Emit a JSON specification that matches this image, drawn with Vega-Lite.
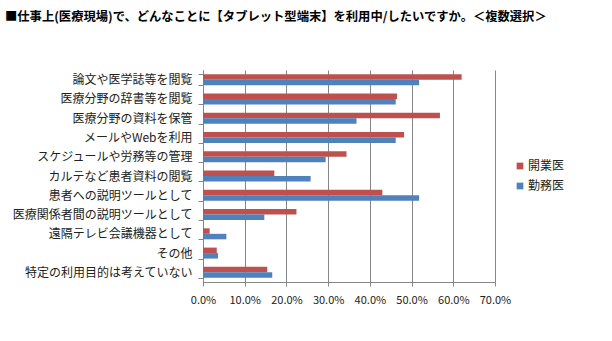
{
  "$schema": "https://vega.github.io/schema/vega-lite/v6.json",
  "width": 292,
  "height": 212,
  "autosize": {"type": "none"},
  "padding": {"left": 203, "top": 70, "right": 117, "bottom": 59},
  "background": "white",
  "title": {
    "text": "■仕事上(医療現場)で、どんなことに【タブレット型端末】を利用中/したいですか。＜複数選択＞",
    "anchor": "start",
    "frame": "group",
    "orient": "top",
    "offset": 41,
    "dx": -198,
    "font": "Noto Sans CJK JP",
    "fontSize": 12.3,
    "fontWeight": "bold",
    "color": "#000000"
  },
  "data": {
    "values": [
      {"item": "論文や医学誌等を閲覧", "group": "開業医", "value": 0.620},
      {"item": "論文や医学誌等を閲覧", "group": "勤務医", "value": 0.518},
      {"item": "医療分野の辞書等を閲覧", "group": "開業医", "value": 0.465},
      {"item": "医療分野の辞書等を閲覧", "group": "勤務医", "value": 0.462},
      {"item": "医療分野の資料を保管", "group": "開業医", "value": 0.568},
      {"item": "医療分野の資料を保管", "group": "勤務医", "value": 0.368},
      {"item": "メールやWebを利用", "group": "開業医", "value": 0.482},
      {"item": "メールやWebを利用", "group": "勤務医", "value": 0.462},
      {"item": "スケジュールや労務等の管理", "group": "開業医", "value": 0.344},
      {"item": "スケジュールや労務等の管理", "group": "勤務医", "value": 0.294},
      {"item": "カルテなど患者資料の閲覧", "group": "開業医", "value": 0.171},
      {"item": "カルテなど患者資料の閲覧", "group": "勤務医", "value": 0.258},
      {"item": "患者への説明ツールとして", "group": "開業医", "value": 0.430},
      {"item": "患者への説明ツールとして", "group": "勤務医", "value": 0.518},
      {"item": "医療関係者間の説明ツールとして", "group": "開業医", "value": 0.224},
      {"item": "医療関係者間の説明ツールとして", "group": "勤務医", "value": 0.147},
      {"item": "遠隔テレビ会議機器として", "group": "開業医", "value": 0.016},
      {"item": "遠隔テレビ会議機器として", "group": "勤務医", "value": 0.056},
      {"item": "その他", "group": "開業医", "value": 0.033},
      {"item": "その他", "group": "勤務医", "value": 0.036},
      {"item": "特定の利用目的は考えていない", "group": "開業医", "value": 0.154},
      {"item": "特定の利用目的は考えていない", "group": "勤務医", "value": 0.166}
    ]
  },
  "mark": {"type": "bar"},
  "encoding": {
    "y": {
      "field": "item",
      "type": "nominal",
      "sort": null,
      "title": null,
      "scale": {"paddingInner": 0.43, "paddingOuter": 0.215},
      "axis": {
        "tickBand": "extent",
        "labelFont": "Noto Sans CJK JP",
        "labelFontSize": 12,
        "labelLimit": 0,
        "labelColor": "#222222",
        "labelPadding": 6,
        "tickSize": 5,
        "tickColor": "#868686",
        "domainColor": "#868686",
        "grid": false
      }
    },
    "yOffset": {
      "field": "group",
      "type": "nominal",
      "sort": ["開業医", "勤務医"],
      "scale": {"paddingInner": 0, "paddingOuter": 0}
    },
    "x": {
      "field": "value",
      "type": "quantitative",
      "title": null,
      "scale": {"domain": [0, 0.7], "nice": false},
      "axis": {
        "format": ".1%",
        "values": [0, 0.1, 0.2, 0.3, 0.4, 0.5, 0.6, 0.7],
        "labelOverlap": false,
        "labelFlush": false,
        "labelFont": "Noto Sans CJK JP",
        "labelFontSize": 11,
        "labelColor": "#222222",
        "labelPadding": 8,
        "grid": true,
        "gridColor": "#868686",
        "gridOpacity": 1,
        "domainColor": "#868686",
        "tickColor": "#868686",
        "tickSize": 4
      }
    },
    "color": {
      "field": "group",
      "type": "nominal",
      "sort": ["開業医", "勤務医"],
      "scale": {"domain": ["開業医", "勤務医"], "range": ["#C0504D", "#4F81BD"]},
      "legend": {
        "title": null,
        "orient": "none",
        "legendX": 311,
        "legendY": 90,
        "symbolType": "square",
        "symbolSize": 45,
        "symbolStrokeWidth": 0,
        "labelFont": "Noto Sans CJK JP",
        "labelFontSize": 12,
        "labelColor": "#222222",
        "rowPadding": 8,
        "labelOffset": 2
      }
    }
  },
  "config": {
    "view": {"stroke": null}
  }
}
